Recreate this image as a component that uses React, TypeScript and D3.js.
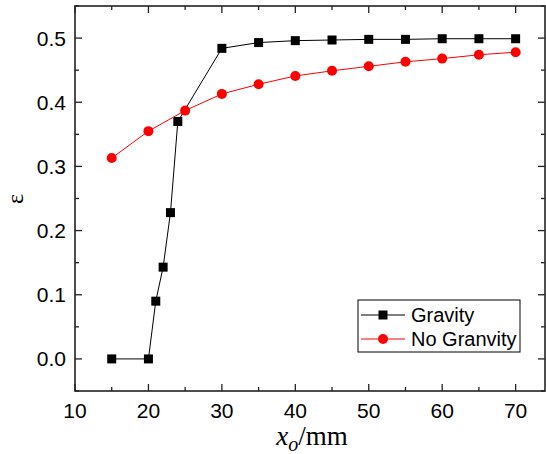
import React from "react";
import * as d3 from "d3";

// data
const xGravity = [15, 20, 21, 22, 23, 24, 30, 35, 40, 45, 50, 55, 60, 65, 70];
const yGravity = [0, 0, 0.09, 0.143, 0.228, 0.37, 0.484, 0.493, 0.496, 0.497, 0.498, 0.498, 0.499, 0.499, 0.499];
const xNoGravity = [15, 20, 25, 30, 35, 40, 45, 50, 55, 60, 65, 70];
const yNoGravity = [0.313, 0.355, 0.387, 0.413, 0.428, 0.441, 0.449, 0.456, 0.463, 0.468, 0.474, 0.478];
const xTicks = [10, 20, 30, 40, 50, 60, 70];
const xMinor = [15, 25, 35, 45, 55, 65];
const yTicks = [0, 0.1, 0.2, 0.3, 0.4, 0.5];
const yMinor = [-0.05, 0.05, 0.15, 0.25, 0.35, 0.45, 0.55];
const seriesNames = ["Gravity", "No Granvity"];

const W = 546;
const H = 454;
const m = { left: 75, right: 1, top: 6, bottom: 63 };

export default function App() {
  const x = d3.scaleLinear().domain([10, 74]).range([m.left, W - m.right]);
  const y = d3.scaleLinear().domain([-0.05, 0.55]).range([H - m.bottom, m.top]);

  const gData = xGravity.map((v, i) => [v, yGravity[i]] as [number, number]);
  const nData = xNoGravity.map((v, i) => [v, yNoGravity[i]] as [number, number]);
  const lineGen = d3
    .line<[number, number]>()
    .x((d) => x(d[0]))
    .y((d) => y(d[1]));

  const x0 = m.left;
  const x1 = W - m.right;
  const y0 = H - m.bottom;
  const y1 = m.top;
  const font = "Arial, 'Liberation Sans', sans-serif";
  const serif = "'Times New Roman', 'Liberation Serif', serif";
  const axisColor = "#222";

  return (
    <svg
      width={W}
      height={H}
      style={{ position: "absolute", left: 0, top: 0, background: "#fff" }}
    >
      {/* ticks, all pointing inward */}
      <g stroke={axisColor} strokeWidth={1.3}>
        {xTicks.map((t) => (
          <g key={"xt" + t}>
            <line x1={x(t)} x2={x(t)} y1={y0} y2={y0 - 7} />
            <line x1={x(t)} x2={x(t)} y1={y1} y2={y1 + 7} />
          </g>
        ))}
        {xMinor.map((t) => (
          <g key={"xm" + t}>
            <line x1={x(t)} x2={x(t)} y1={y0} y2={y0 - 4} />
            <line x1={x(t)} x2={x(t)} y1={y1} y2={y1 + 4} />
          </g>
        ))}
        {yTicks.map((t) => (
          <g key={"yt" + t}>
            <line x1={x0} x2={x0 + 7} y1={y(t)} y2={y(t)} />
            <line x1={x1} x2={x1 - 7} y1={y(t)} y2={y(t)} />
          </g>
        ))}
        {yMinor.map((t) => (
          <g key={"ym" + t}>
            <line x1={x0} x2={x0 + 4} y1={y(t)} y2={y(t)} />
            <line x1={x1} x2={x1 - 4} y1={y(t)} y2={y(t)} />
          </g>
        ))}
      </g>
      <rect
        x={x0}
        y={y1}
        width={x1 - x0}
        height={y0 - y1}
        fill="none"
        stroke={axisColor}
        strokeWidth={1.6}
      />

      {/* tick labels */}
      <g fontFamily={font} fontSize={21} fill="#000">
        {xTicks.map((t) => (
          <text key={"xl" + t} x={x(t)} y={y0 + 27} textAnchor="middle">
            {t}
          </text>
        ))}
        {yTicks.map((t) => (
          <text key={"yl" + t} x={x0 - 9} y={y(t) + 7.5} textAnchor="end">
            {t.toFixed(1)}
          </text>
        ))}
      </g>

      {/* axis titles */}
      <text x={312} y={445} textAnchor="middle" fontFamily={serif} fontSize={27}>
        <tspan fontStyle="italic">x</tspan>
        <tspan fontStyle="italic" fontSize={20} dy={6}>
          o
        </tspan>
        <tspan dy={-6}>/mm</tspan>
      </text>
      <text
        transform="translate(23,199) rotate(-90)"
        textAnchor="middle"
        fontFamily={serif}
        fontSize={24}
      >
        ε
      </text>

      {/* series */}
      <path d={lineGen(gData) ?? ""} fill="none" stroke="#000" strokeWidth={1} />
      {gData.map((d, i) => (
        <rect
          key={"g" + i}
          x={x(d[0]) - 4.5}
          y={y(d[1]) - 4.5}
          width={9}
          height={9}
          fill="#000"
        />
      ))}
      <path d={lineGen(nData) ?? ""} fill="none" stroke="#ff0000" strokeWidth={1} />
      {nData.map((d, i) => (
        <circle key={"n" + i} cx={x(d[0])} cy={y(d[1])} r={5} fill="#ff0000" />
      ))}

      {/* legend */}
      <g fontFamily={font} fontSize={20}>
        <rect x={358} y={300} width={162} height={52} fill="#fff" stroke="#000" strokeWidth={1} />
        <line x1={361} x2={405} y1={315} y2={315} stroke="#000" strokeWidth={1} />
        <rect x={378.5} y={310.5} width={9} height={9} fill="#000" />
        <text x={411} y={322}>
          {seriesNames[0]}
        </text>
        <line x1={361} x2={405} y1={339} y2={339} stroke="#ff0000" strokeWidth={1} />
        <circle cx={383} cy={339} r={5} fill="#ff0000" />
        <text x={411} y={346}>
          {seriesNames[1]}
        </text>
      </g>
    </svg>
  );
}
